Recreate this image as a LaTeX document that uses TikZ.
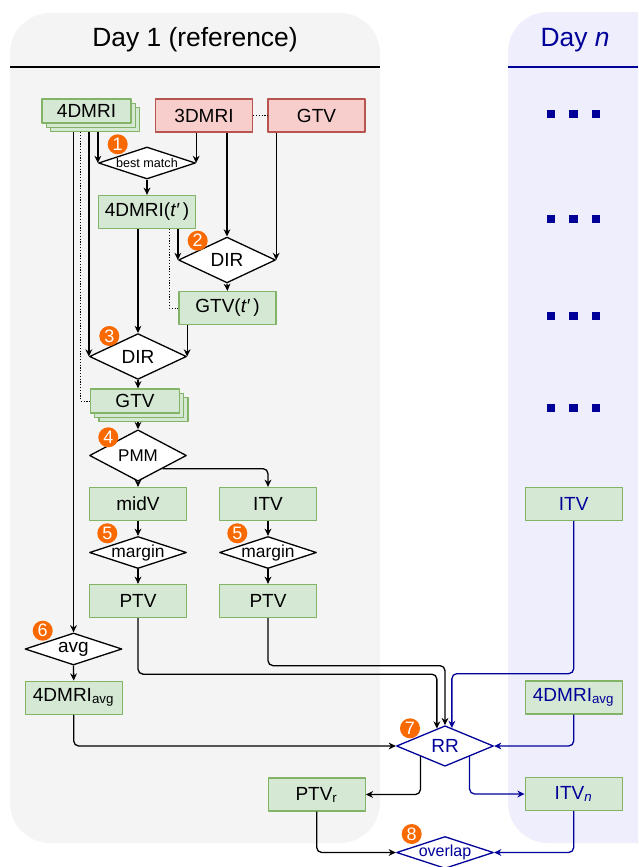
\documentclass[tikz,border=0pt]{standalone}
\usepackage{fontspec}
\setmainfont{Liberation Sans}
\usetikzlibrary{arrows.meta,shapes.geometric,shadows,calc}
\definecolor{boxfill}{HTML}{D5E8D4}
\definecolor{boxline}{HTML}{82B366}
\definecolor{redfill}{HTML}{F8CECC}
\definecolor{redline}{HTML}{B85450}
\definecolor{dayone}{HTML}{F4F4F4}
\definecolor{dayn}{HTML}{EEEEFC}
\definecolor{navy}{HTML}{000099}
\definecolor{badge}{HTML}{FA6800}
\newcommand{\ztext}[1]{\makebox[0pt]{#1}}

\begin{document}
\begin{tikzpicture}[line join=round, >={Stealth[length=3.6pt,width=3.4pt]}, x=0.5pt, y=-0.5pt, line width=0.65pt,
	font=\fontsize{9.5}{11}\selectfont,
	box/.style={rectangle, draw=boxline, fill=boxfill, minimum width=48.5pt, minimum height=16.5pt, inner sep=0pt},
	rbox/.style={box, draw=redline, fill=redfill},
	stack/.style={box, minimum width=44.5pt, minimum height=12pt, double copy shadow={shadow xshift=2.15pt, shadow yshift=-2.15pt}},
	dia/.style={diamond, draw, fill=white, minimum width=48.5pt, minimum height=16pt, inner sep=0pt},
	num/.style={circle, fill=badge, text=white, minimum size=10pt, inner sep=0pt, font=\fontsize{9}{9}\selectfont},
	link/.style={->, rounded corners=2.5pt},
	blink/.style={link, draw=navy},
	dots/.style={line width=0.5pt, dash pattern=on 0.6pt off 0.8pt},
	]
	\path[use as bounding box] (0,0) rectangle (638,867);
	\clip (0,0) rectangle (638,867);
	\fill[dayone, rounded corners=20pt] (10,13) rectangle (380,843);
	\fill[dayn, rounded corners=20pt] (508,12) rectangle (700,843);
	\draw (10,67) -- (380,67);
	\draw[navy] (508,67) -- (638,67);
	\node[font=\fontsize{13.2}{15}\selectfont] (day1) at (195,40) {Day 1 (reference)};
	\node[font=\fontsize{13.2}{15}\selectfont, text=navy] (dayn) at (575,40) {Day \textit{n}};
	\foreach \y in {114,219,316,408}
	\foreach \x in {551,573.5,596}
	\fill[navy] (\x-4.25,\y-4.25) rectangle +(8.5,8.5);
	
	\node[stack] (mri4) at (86.5,111) {4DMRI};
	\node[rbox] (mri3) at (204,115.5) {3DMRI};
	\node[rbox] (gtv) at (316.5,115.5) {GTV};
	\node[dia, font=\fontsize{6.3}{7}\selectfont] (bm) at (147,163) {\ztext{best match}};
	\node[box] (mrit) at (147,212) {4DMRI(\textit{t′}\,)};
	\node[dia] (dir2) at (227,260) {DIR};
	\node[box] (gtvt) at (227.5,308) {GTV(\textit{t′}\,)};
	\node[dia] (dir3) at (138,356.5) {DIR};
	\node[stack] (gtvs) at (135,401) {GTV};
	\node[dia, font=\fontsize{8.5}{9}\selectfont] (pmm) at (138,455.5) {PMM};
	\node[box] (midv) at (138,504) {midV};
	\node[box] (itv) at (268,504) {ITV};
	\node[dia, font=\fontsize{8.7}{9}\selectfont] (mar1) at (138,552.5) {\ztext{margin}};
	\node[dia, font=\fontsize{8.7}{9}\selectfont] (mar2) at (268,552.5) {\ztext{margin}};
	\node[box] (ptv1) at (138,601) {PTV};
	\node[box] (ptv2) at (268,601) {PTV};
	\node[dia] (avg) at (73.5,649) {\ztext{avg}};
	\node[box] (mriavg) at (73.7,697.7) {4DMRI\textsubscript{avg}};
	\node[dia, draw=navy, text=navy] (rr) at (445,746) {RR};
	\node[box] (ptvr) at (316.7,794.5) {PTV\textsubscript{r}};
	\node[dia, draw=navy, text=navy, font=\fontsize{8}{9}\selectfont] (ovl) at (445,852.5) {\ztext{overlap}};
	\node[box, text=navy] (itvd) at (573.7,504) {ITV};
	\node[box, text=navy] (mriavgn) at (573.7,697.5) {4DMRI\textsubscript{avg}};
	\node[box, text=navy] (itvn) at (573.7,794) {ITV\textsubscript{\textit{n}}};
	
	\node[num] (n1) at (117.7,144.3) {1};
	\node[num] (n2) at (197.7,240.7) {2};
	\node[num] (n3) at (109.3,336) {3};
	\node[num] (n4) at (108.3,437.3) {4};
	\node[num] (n5a) at (107.3,533.3) {5};
	\node[num] (n5b) at (237.3,533.3) {5};
	\node[num] (n6) at (42.7,630.7) {6};
	\node[num] (n7) at (410,728.3) {7};
	\node[num] (n8) at (411.7,834) {8};
	
	\coordinate (mri4b) at ([yshift=-4.3pt]mri4.south);
	\coordinate (gtvsb) at ([yshift=-4.3pt]gtvs.south);
	\coordinate (tdot) at ([xshift=-4.5pt]gtvt.west);
	\coordinate (sdot) at ([xshift=-4.5pt]gtvs.west);
	\coordinate (rrl) at ($(rr.north)!0.165!(rr.west)$);
	\coordinate (rrr) at ($(rr.north)!0.14!(rr.east)$);
	
	\draw[dots] (mri3) -- (gtv);
	\draw[link] (mri4b -| avg.north) -- (avg.north);
	\draw[dots] (mri4b -| sdot) |- (gtvs.west);
	\draw[link] (mri4b -| dir3.west) -- (dir3.west);
	\draw[link] (mri4b -| bm.west) -- (bm.west);
	\draw[link] (mri3.south -| bm.east) -- (bm.east);
	\draw[link] (mri3.south -| dir2.north) -- (dir2.north);
	\draw[link] (gtv.south -| dir2.east) -- (dir2.east);
	\draw[link] (bm.south) -- (mrit.north);
	\draw[link] (mrit.south -| dir2.west) -- (dir2.west);
	\draw[dots] (mrit.south -| tdot) |- (gtvt.west);
	\draw[link] (mrit.south -| dir3.north) -- (dir3.north);
	\draw[link] (dir2.south) -- (gtvt.north);
	\draw[link] (gtvt.south -| dir3.east) -- (dir3.east);
	\draw[link] (dir3.south) -- (dir3.south |- gtvs.north);
	\draw[link] (gtvsb -| pmm.north) -- (pmm.north);
	\draw[link] (pmm.south) -- (midv.north);
	\draw[link] (pmm.south east) -| (itv.north);
	\draw[link] (midv.south) -- (mar1.north);
	\draw[link] (mar1.south) -- (ptv1.north);
	\draw[link] (itv.south) -- (mar2.north);
	\draw[link] (mar2.south) -- (ptv2.north);
	\draw[link] (avg.south) -- (mriavg.north);
	\draw[link] (mriavg.south) |- (rr.west);
	\draw[link] (ptv1.south) -- ++(0,56) -| (rrl);
	\draw[link] (ptv2.south) -- ++(0,47.5) -| (rr.north);
	\draw[blink] (itvd.south) -- ++(0,152.5) -| (rrr);
	\draw[blink] (mriavgn.south) |- (rr.east);
	\draw[link] (rr.south west) |- (ptvr.east);
	\draw[blink] (rr.south east) |- (itvn.west);
	\draw[link] (ptvr.south) |- (ovl.west);
	\draw[blink] (itvn.south) |- (ovl.east);
\end{tikzpicture}
\end{document}
